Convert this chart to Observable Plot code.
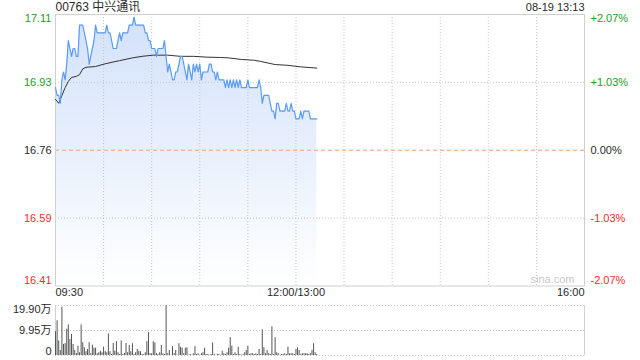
<!DOCTYPE html>
<html><head><meta charset="utf-8">
<script src="https://cdn.jsdelivr.net/npm/d3@7"></script>
<script src="https://cdn.jsdelivr.net/npm/@observablehq/plot@0.6"></script>
<style>
body{margin:0;background:#fff;}
#wrap{position:relative;width:640px;height:360px;}
#wrap svg{display:block;}
</style></head><body><div id="wrap"></div>
<script>
const stockTitle = "00763 中兴通讯";
const stampText = "08-19 13:13";
const watermark = "sina.com";
const prevClose = 16.76;
const limitPct = 0.0207;
const totalMinutes = 330;
const priceTickLabels = ["16.41","16.59","16.76","16.93","17.11"];
const pctTickLabels = ["-2.07%","-1.03%","0.00%","+1.03%","+2.07%"];
const timeTickMinutes = [0, 150, 330];
const timeTickLabels = ["09:30", "12:00/13:00", "16:00"];
const volTickValues = [0, 99500, 199000];
const volTickLabels = ["0", "9.95万", "19.90万"];

// one price per minute from 09:30
const prices = [
16.92,16.90,16.90,16.88,16.94,16.96,16.94,16.98,17.04,17.02,
17.00,17.02,17.02,17.00,17.00,17.08,17.08,17.08,17.06,17.04,
17.02,16.98,17.00,17.02,17.04,17.08,17.06,17.06,17.06,17.06,
17.06,17.06,17.08,17.06,17.06,17.04,17.02,17.02,17.02,17.04,
17.06,17.04,17.06,17.06,17.06,17.06,17.08,17.08,17.08,17.10,
17.08,17.08,17.08,17.08,17.08,17.08,17.06,17.06,17.04,17.04,
17.02,17.02,17.02,17.00,17.02,17.02,17.02,17.02,17.04,17.00,
16.96,16.98,16.96,16.94,16.94,16.96,16.96,16.98,17.00,17.00,
16.98,16.96,16.94,16.98,16.96,16.94,16.98,16.96,16.98,16.96,
16.98,16.94,16.96,16.96,16.96,16.96,16.98,16.98,16.96,16.96,
16.94,16.96,16.94,16.94,16.94,16.94,16.92,16.94,16.92,16.94,
16.92,16.94,16.92,16.94,16.92,16.94,16.92,16.92,16.92,16.92,
16.94,16.92,16.92,16.92,16.92,16.92,16.92,16.94,16.92,16.88,
16.90,16.90,16.90,16.90,16.88,16.86,16.86,16.84,16.88,16.88,
16.86,16.86,16.86,16.86,16.88,16.86,16.86,16.88,16.86,16.86,
16.84,16.84,16.84,16.86,16.84,16.86,16.86,16.86,16.86,16.84,
16.84,16.84,16.84,16.84
];

const avgMinutes = [0,2,4,6,8,10,13,15,17,19,25,31,40,48,54,61,70,78,86,94,103,108,116,124,128,137,145,153,163];
const avgPrices = [16.89,16.88,16.90,16.92,16.936,16.946,16.949,16.953,16.968,16.972,16.974,16.981,16.989,16.996,17.000,17.003,17.003,17.000,17.000,16.998,16.997,16.996,16.992,16.990,16.987,16.979,16.977,16.973,16.970];

// one volume per minute (shares)
const volumes = [
95000,138000,58000,20000,192000,44000,47000,105000,122000,64000,
84000,44000,20000,8000,37000,11000,122000,51000,31000,15000,
24000,51000,7000,41000,29000,29000,7000,11000,17000,11000,
33000,15000,11000,86000,15000,4000,48000,17000,55000,11000,
4000,58000,4000,8000,48000,11000,40000,15000,47000,4000,
11000,24000,17000,15000,4000,3000,11000,55000,91000,7000,
7000,55000,50000,7000,4000,11000,40000,7000,4000,198000,
7000,20000,1000,35000,7000,20000,1000,47000,33000,29000,
7000,29000,
31000,1000,4000,1000,7000,35000,4000,7000,1000,7000,
11000,29000,4000,4000,1000,4000,50000,4000,1000,4000,
4000,1000,17000,7000,4000,11000,29000,71000,37000,4000,
11000,4000,33000,4000,1000,4000,11000,20000,37000,4000,
7000,7000,4000,7000,4000,24000,4000,102000,31000,7000,
20000,7000,4000,114000,4000,71000,11000,7000,1000,4000,
4000,7000,4000,33000,7000,7000,7000,4000,24000,31000,
20000,4000,7000,7000,7000,7000,4000,7000,20000,47000,
11000,4000
];

const font = "'Liberation Sans', Arial, 'Noto Sans CJK SC', sans-serif";
const green = "#1c9e1c", red = "#ee2e2e", dark = "#2a2a2a";
const gridStroke = "#c6c6c6", borderStroke = "#d0d0d0";

const yMin = prevClose * (1 - limitPct), yMax = prevClose * (1 + limitPct);
const yTicks = d3.range(5).map(i => yMin + (yMax - yMin) * i / 4);
const tickColor = v => Math.abs(v - prevClose) < 1e-6 ? dark : (v > prevClose ? green : red);
const yLab = yTicks.map((v, i) => ({v, label: priceTickLabels[i], pct: pctTickLabels[i], color: tickColor(v)}));
const priceData = prices.map((p, i) => ({m: i, p}));
const avgData = avgMinutes.map((m, i) => ({m, p: avgPrices[i]}));
const gridMinutes = d3.range(30, totalMinutes, 30);
const timeLab = timeTickMinutes.map((m, i) => ({m, label: timeTickLabels[i]}));

function yLabels(rows, extra) {
  const base = {y: "v", fill: "color", fontSize: 11, ...extra};
  return [
    Plot.text(rows.slice(1, 4), {...base, lineAnchor: "middle"}),
    Plot.text([rows[4]], {...base, lineAnchor: "top", dy: 0}),
    Plot.text([rows[0]], {...base, lineAnchor: "bottom", dy: -2})
  ];
}

const main = Plot.plot({
  width: 640, height: 300,
  marginLeft: 55, marginRight: 56, marginTop: 14, marginBottom: 14.5,
  x: {domain: [0, totalMinutes], axis: null},
  y: {domain: [yMin, yMax], axis: null},
  color: {type: "identity"},
  style: {fontFamily: font, fontSize: "11px", background: "#fff"},
  marks: [
    Plot.areaY(priceData, {x: "m", y1: yMin, y2: "p", fill: "url(#areaGrad)"}),
    Plot.ruleX(gridMinutes, {stroke: gridStroke, strokeDasharray: "1,2"}),
    Plot.ruleY([yTicks[1], yTicks[3]], {stroke: gridStroke, strokeDasharray: "1,2"}),
    Plot.ruleY([prevClose], {stroke: "#eba27e", strokeDasharray: "4,3"}),
    Plot.frame({stroke: borderStroke}),
    Plot.text([watermark], {frameAnchor: "bottom-right", textAnchor: "end", lineAnchor: "middle", dx: -10, dy: -6.5, fill: "#c9c9c9", fontSize: 11}),
    Plot.line(avgData, {x: "m", y: "p", stroke: "#333", strokeWidth: 1}),
    Plot.line(priceData, {x: "m", y: "p", stroke: "#5b9bf0", strokeWidth: 1.2}),
    ...yLabels(yLab, {text: "label", frameAnchor: "left", textAnchor: "end", dx: -4}),
    ...yLabels(yLab, {text: "pct", frameAnchor: "right", textAnchor: "start", dx: 6}),
    Plot.text([timeLab[0]], {x: "m", text: "label", frameAnchor: "bottom", textAnchor: "start", lineAnchor: "top", dy: 2, fill: dark, fontSize: 11}),
    Plot.text([timeLab[1]], {x: "m", text: "label", frameAnchor: "bottom", textAnchor: "middle", lineAnchor: "top", dy: 2, fill: dark, fontSize: 11}),
    Plot.text([timeLab[2]], {x: "m", text: "label", frameAnchor: "bottom", textAnchor: "end", lineAnchor: "top", dy: 2, fill: dark, fontSize: 11}),
    Plot.text([stockTitle], {frameAnchor: "top-left", textAnchor: "start", lineAnchor: "middle", dy: -7, fill: dark, fontSize: 12}),
    Plot.text([stampText], {frameAnchor: "top-right", textAnchor: "end", lineAnchor: "middle", dy: -7, fill: dark, fontSize: 11})
  ]
});
d3.select(main).insert("defs", ":first-child").html(
  '<linearGradient id="areaGrad" x1="0" y1="0" x2="0" y2="1">' +
  '<stop offset="0" stop-color="#d2e1fa"/><stop offset="1" stop-color="#ffffff"/></linearGradient>');

const volData = volumes.map((v, i) => ({m: i, v}));
const vLab = volTickValues.map((v, i) => ({v, label: volTickLabels[i], color: dark}));

const vol = Plot.plot({
  width: 640, height: 60,
  marginLeft: 55, marginRight: 56, marginTop: 5, marginBottom: 5,
  x: {domain: [0, totalMinutes], axis: null},
  y: {domain: [0, volTickValues[2]], axis: null},
  color: {type: "identity"},
  style: {fontFamily: font, fontSize: "11px", background: "#fff"},
  marks: [
    Plot.ruleY(volTickValues, {stroke: gridStroke, strokeDasharray: "1,2"}),
    Plot.ruleX([0, totalMinutes], {stroke: borderStroke}),
    Plot.ruleX(volData, {x: "m", y1: 0, y2: "v", stroke: "#555", strokeWidth: 1}),
    Plot.text([vLab[1]], {y: "v", text: "label", fill: "color", frameAnchor: "left", textAnchor: "end", dx: -4, lineAnchor: "middle", fontSize: 11}),
    Plot.text([vLab[2]], {y: "v", text: "label", fill: "color", frameAnchor: "left", textAnchor: "end", dx: -4, lineAnchor: "top", fontSize: 11}),
    Plot.text([vLab[0]], {y: "v", text: "label", fill: "color", frameAnchor: "left", textAnchor: "end", dx: -4, lineAnchor: "bottom", dy: -1, fontSize: 11})
  ]
});

const wrap = document.getElementById("wrap");
wrap.appendChild(main);
wrap.appendChild(vol);
</script>
</body></html>
